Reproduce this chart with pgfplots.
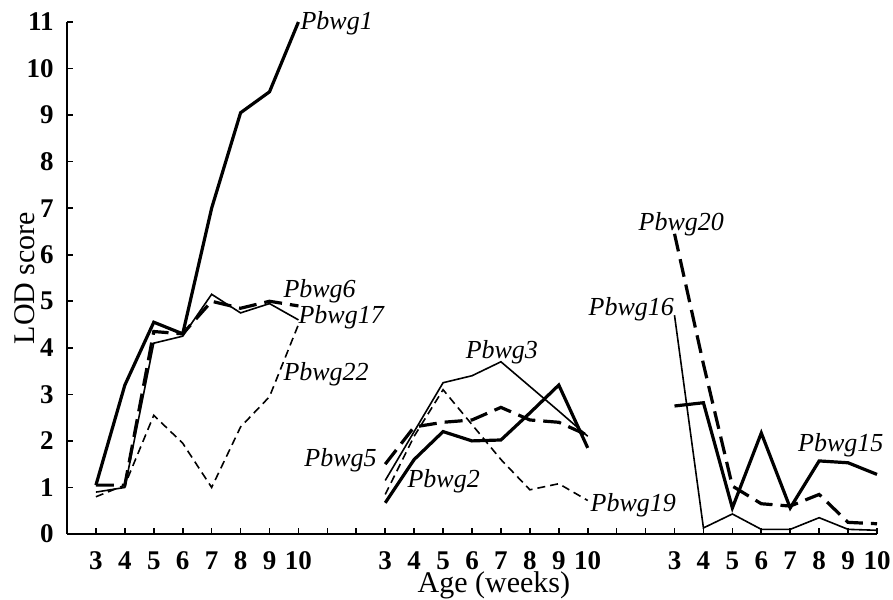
\documentclass[border=0pt]{standalone}
\usepackage{fontspec}
\setmainfont{Liberation Serif}
\usepackage{pgfplots}
\pgfplotsset{compat=1.18}
\begin{document}
\begin{tikzpicture}
\tikzset{
  thicksolid/.style={black, line width=1.6pt, solid},
  thinsolid/.style={black, line width=0.8pt, solid},
  thickdash/.style={black, line width=1.6pt, dash pattern=on 9pt off 4pt},
  thindash/.style={black, line width=0.8pt, dash pattern=on 4pt off 2.5pt},
  lab/.style={font=\fontsize{13}{14}\selectfont\itshape, inner sep=0pt},
}
\begin{axis}[
  scale only axis, width=405pt, height=256pt,
  xmin=-1, xmax=27, ymin=0, ymax=11,
  axis lines=left, axis line style={-, line width=1pt},
  tick align=inside, major tick length=3pt,
  tick style={line width=0.8pt, black},
  xtick={0,...,27},
  xticklabels={3,4,5,6,7,8,9,10,{},{},3,4,5,6,7,8,9,10,{},{},3,4,5,6,7,8,9,10},
  ytick={0,...,11},
  /pgf/number format/assume math mode=true,
  ticklabel style={font=\fontsize{13.5}{14}\selectfont\bfseries, inner sep=0pt},
  xticklabel style={anchor=base, yshift=-17.8pt},
  yticklabel style={anchor=east, xshift=-6.5pt},
  xlabel={Age (weeks)}, ylabel={LOD score},
  xlabel style={at={(rel axis cs:0.527,0)}, anchor=base, yshift=-29pt, inner sep=0pt, font=\fontsize{15}{17}\selectfont},
  ylabel style={at={(rel axis cs:0,0.5)}, anchor=center, yshift=21pt, inner sep=0pt, font=\fontsize{15}{17}\selectfont},
  clip=false,
]
\coordinate (BL) at (rel axis cs:0,0);
\coordinate (TR) at (rel axis cs:1,1);
% Group 1 (weeks 3-10 at positions 0-7)
\addplot[thicksolid] coordinates {(0,1.05) (1,3.2) (2,4.55) (3,4.3) (4,7.0) (5,9.05) (6,9.5) (7,11.0)};
\addplot[thickdash] coordinates {(0,1.05) (1,1.05) (2,4.35) (3,4.3) (4,5.0) (5,4.85) (6,5.0) (7,4.9)};
\addplot[thinsolid] coordinates {(0,0.9) (1,1.0) (2,4.1) (3,4.25) (4,5.15) (5,4.75) (6,4.95) (7,4.6)};
\addplot[thindash] coordinates {(0,0.8) (1,1.05) (2,2.55) (3,1.95) (4,1.0) (5,2.3) (6,2.95) (7,4.5)};
% Group 2 (positions 10-17)
\addplot[thicksolid] coordinates {(10,0.67) (11,1.6) (12,2.2) (13,2.0) (14,2.02) (15,2.6) (16,3.2) (17,1.85)};
\addplot[thickdash] coordinates {(10,1.5) (11,2.3) (12,2.4) (13,2.45) (14,2.72) (15,2.45) (16,2.4) (17,2.12)};
\addplot[thinsolid] coordinates {(10,1.15) (11,2.2) (12,3.25) (13,3.4) (14,3.7) (15,3.17) (16,2.64) (17,2.1)};
\addplot[thindash] coordinates {(10,0.85) (11,2.1) (12,3.1) (13,2.35) (14,1.6) (15,0.95) (16,1.08) (17,0.72)};
% Group 3 (positions 20-27)
\addplot[thickdash] coordinates {(20,6.45) (21,3.65) (22,1.03) (23,0.65) (24,0.6) (25,0.85) (26,0.25) (27,0.22)};
\addplot[thinsolid] coordinates {(20,4.7) (21,0.13) (22,0.43) (23,0.1) (24,0.1) (25,0.35) (26,0.1) (27,0.08)};
\addplot[thicksolid] coordinates {(20,2.75) (21,2.82) (22,0.56) (23,2.17) (24,0.56) (25,1.57) (26,1.53) (27,1.28)};
% labels
\node[lab, anchor=base west] at (axis cs:7.06,10.84) {Pbwg1};
\node[lab, anchor=base west] at (axis cs:6.47,5.08) {Pbwg6};
\node[lab, anchor=base west] at (axis cs:6.99,4.52) {Pbwg17};
\node[lab, anchor=base west] at (axis cs:6.47,3.29) {Pbwg22};
\node[lab, anchor=base east] at (axis cs:9.72,1.44) {Pbwg5};
\node[lab, anchor=base west] at (axis cs:10.76,0.99) {Pbwg2};
\node[lab, anchor=base west] at (axis cs:12.77,3.78) {Pbwg3};
\node[lab, anchor=base west] at (axis cs:17.09,0.49) {Pbwg19};
\node[lab, anchor=base west] at (axis cs:18.75,6.52) {Pbwg20};
\node[lab, anchor=base west] at (axis cs:17.02,4.69) {Pbwg16};
\node[lab, anchor=base west] at (axis cs:24.26,1.78) {Pbwg15};
\end{axis}
\pgfresetboundingbox
\path ([shift={(-33.5pt,-32.5pt)}]BL) rectangle ([shift={(8pt,11pt)}]TR);
\end{tikzpicture}
\end{document}
